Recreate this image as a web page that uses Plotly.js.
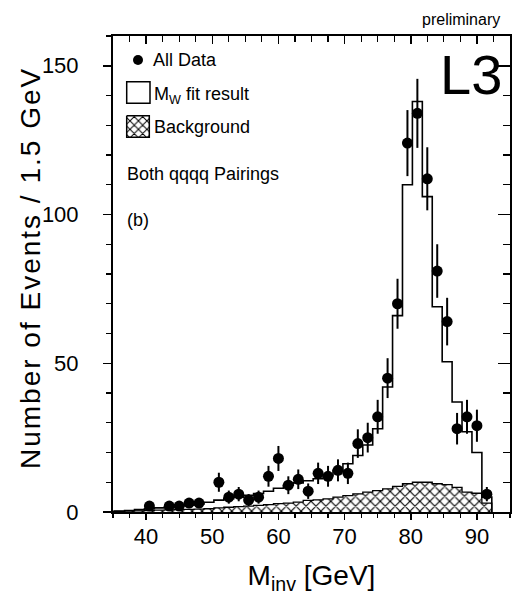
<!DOCTYPE html>
<html><head><meta charset="utf-8">
<script src="https://cdn.plot.ly/plotly-3.0.1.min.js"></script>
<style>body{margin:0;background:#fff}</style>
</head><body><div id="chart" style="width:512px;height:599px"></div>
<script>
// ---- data ----
const dataMass = [40.5, 43.5, 45, 46.5, 48, 51, 52.5, 54, 55.5, 57, 58.5, 60, 61.5, 63, 64.5, 66, 67.5, 69, 70.5, 72, 73.5, 75, 76.5, 78, 79.5, 81, 82.5, 84, 85.5, 87, 88.5, 90, 91.5];
const dataCounts = [2, 2, 2, 3, 3, 10, 5, 6, 4, 5, 12, 18, 9, 11, 7, 13, 12, 14, 13, 23, 25, 32, 45, 70, 124, 134, 112, 81, 64, 28, 32, 29, 6];
const dataErrors = [1.4, 1.4, 1.4, 1.7, 1.7, 3.2, 2.2, 2.4, 2.0, 2.2, 3.5, 4.2, 3.0, 3.3, 2.6, 3.6, 3.5, 3.7, 3.6, 4.8, 5.0, 5.7, 6.7, 8.4, 11.1, 11.6, 10.6, 9.0, 8.0, 5.3, 5.7, 5.4, 2.4];
const binCenters = [34.5, 36, 37.5, 39, 40.5, 42, 43.5, 45, 46.5, 48, 49.5, 51, 52.5, 54, 55.5, 57, 58.5, 60, 61.5, 63, 64.5, 66, 67.5, 69, 70.5, 72, 73.5, 75, 76.5, 78, 79.5, 81, 82.5, 84, 85.5, 87, 88.5, 90, 91.5];
const fitCounts = [0.2, 0.3, 0.5, 0.8, 1.1, 1.4, 1.7, 2.0, 2.3, 2.7, 3.3, 4.0, 4.5, 5.0, 5.6, 6.2, 7.0, 8.0, 9.0, 9.8, 10.5, 11.2, 12.3, 14.0, 16.2, 19.0, 22.5, 28, 42, 66, 110, 138, 106, 69, 50.5, 37, 27, 20, 5];
const bgCounts = [0.1, 0.2, 0.3, 0.4, 0.5, 0.6, 0.7, 0.8, 0.9, 1.0, 1.1, 1.4, 1.6, 1.8, 2.0, 2.2, 2.5, 2.8, 3.0, 3.3, 3.9, 4.1, 4.4, 5.0, 5.5, 6.1, 6.7, 7.2, 7.8, 8.6, 9.5, 10, 10, 9.5, 9.2, 8.3, 6.7, 6.3, 3];
const binWidth = 1.5;
const xTickLabels = ['40', '50', '60', '70', '80', '90'];
const yTickLabels = ['0', '50', '100', '150'];
const yTitle = 'Number of Events / 1.5 GeV';

function stepXY(centers, vals) {
  const x = [], y = [];
  centers.forEach((c, i) => { x.push(c - binWidth / 2); y.push(vals[i]); });
  const last = centers[centers.length - 1] + binWidth / 2;
  x.push(last); y.push(vals[vals.length - 1]);
  x.push(last); y.push(0);
  return {x, y};
}
const bgStep = stepXY(binCenters, bgCounts);
const fitStep = stepXY(binCenters, fitCounts);

const FONT = 'Liberation Sans, Arial, Helvetica, sans-serif';
// plot-area pixel helpers (for decorations only)
const L = 113, R = 510, T = 36, B = 512;
const P = x => (x - L) / (R - L);
const Q = y => (B - y) / (B - T);

const traces = [
  {x: bgStep.x, y: bgStep.y, type: 'scatter', mode: 'lines',
   line: {shape: 'hv', color: 'black', width: 1.3},
   fill: 'tozeroy', fillcolor: 'white',
   fillpattern: {shape: 'x', fgcolor: 'black', bgcolor: 'white', size: 7, solidity: 0.3},
   hoverinfo: 'skip', showlegend: false},
  {x: fitStep.x, y: fitStep.y, type: 'scatter', mode: 'lines',
   line: {shape: 'hv', color: 'black', width: 1.6}, hoverinfo: 'skip', showlegend: false},
  {x: dataMass, y: dataCounts, type: 'scatter', mode: 'markers',
   marker: {size: 11, color: 'black'},
   error_y: {type: 'data', array: dataErrors, visible: true, color: 'black', thickness: 2, width: 0},
   showlegend: false},
  {x: [], y: [], xaxis: 'x2', yaxis: 'y2', type: 'scatter', showlegend: false, hoverinfo: 'skip'},
  // legend glyph for background (pixel overlay axes)
  {x: [126.7, 149.3, 149.3, 126.7, 126.7], y: [115.7, 115.7, 137.3, 137.3, 115.7],
   xaxis: 'x3', yaxis: 'y3', type: 'scatter', mode: 'lines', fill: 'toself', fillcolor: 'white',
   fillpattern: {shape: 'x', fgcolor: 'black', bgcolor: 'white', size: 6, solidity: 0.3},
   line: {color: 'black', width: 1.5}, hoverinfo: 'skip', showlegend: false}
];

const layout = {
  width: 512, height: 599,
  margin: {l: L, r: 512 - R, t: T, b: 599 - B, pad: 0},
  paper_bgcolor: 'white', plot_bgcolor: 'white',
  font: {family: FONT, color: 'black'},
  showlegend: false,
  xaxis: {range: [35, 95], tickmode: 'array', tickvals: xTickLabels.map(Number), ticktext: xTickLabels,
    ticks: 'outside', ticklen: 6, tickwidth: 1.5, tickcolor: 'black',
    minor: {dtick: 2.5, tick0: 0, ticks: 'outside', ticklen: 4, tickwidth: 1.2, tickcolor: 'black'},
    showline: true, linewidth: 2, linecolor: 'black', mirror: true,
    showgrid: false, zeroline: false, tickfont: {size: 22, family: FONT}, ticklabelstandoff: -2,
    title: {text: 'M<sub>inv</sub> [GeV]', font: {size: 28, family: FONT}, standoff: 17}, automargin: false},
  yaxis: {range: [0, 160], tickmode: 'array', tickvals: yTickLabels.map(Number), ticktext: yTickLabels,
    ticks: 'outside', ticklen: 8, tickwidth: 1.5, tickcolor: 'black',
    minor: {dtick: 10, tick0: 0, ticks: 'outside', ticklen: 5, tickwidth: 1.2, tickcolor: 'black'},
    showline: true, linewidth: 2, linecolor: 'black', mirror: true,
    showgrid: false, zeroline: false, tickfont: {size: 22, family: FONT}, ticklabelstandoff: 20,
    automargin: false},
  xaxis2: {overlaying: 'x', side: 'top', anchor: 'y', range: [35, 95], dtick: 10, tick0: 0,
    ticks: 'inside', ticklen: 8, tickwidth: 1.5, tickcolor: 'black',
    minor: {dtick: 2.5, tick0: 0, ticks: 'inside', ticklen: 6, tickwidth: 1.2, tickcolor: 'black'},
    showticklabels: false, showgrid: false, zeroline: false, showline: false},
  yaxis2: {overlaying: 'y', side: 'right', anchor: 'x', range: [0, 160], dtick: 50, tick0: 0,
    ticks: 'inside', ticklen: 12, tickwidth: 1.5, tickcolor: 'black',
    minor: {dtick: 10, tick0: 0, ticks: 'inside', ticklen: 7, tickwidth: 1.2, tickcolor: 'black'},
    showticklabels: false, showgrid: false, zeroline: false, showline: false},
  xaxis3: {overlaying: 'x', anchor: 'y3', range: [L, R], visible: false, fixedrange: true},
  yaxis3: {overlaying: 'y', anchor: 'x3', range: [B, T], visible: false, fixedrange: true},
  shapes: [
    {type: 'circle', xref: 'paper', yref: 'paper', x0: P(133), x1: P(143), y0: Q(55), y1: Q(65),
     fillcolor: 'black', line: {color: 'black', width: 0}},
    {type: 'rect', xref: 'paper', yref: 'paper', x0: P(126.7), x1: P(150), y0: Q(81.7), y1: Q(103.3),
     fillcolor: 'rgba(0,0,0,0)', line: {color: 'black', width: 1.5}}
  ],
  annotations: [
    {text: yTitle, xref: 'paper', yref: 'paper', x: P(30), y: Q(268), xanchor: 'center', yanchor: 'middle', textangle: -90, showarrow: false, font: {size: 28, family: FONT}},
    {text: 'preliminary', xref: 'paper', yref: 'paper', x: P(502), y: Q(20), xanchor: 'right', yanchor: 'middle', showarrow: false, font: {size: 16, family: FONT}},
    {text: 'L3', xref: 'paper', yref: 'paper', x: P(504), y: Q(74), xanchor: 'right', yanchor: 'middle', showarrow: false, font: {size: 56, family: FONT}},
    {text: 'All Data', xref: 'paper', yref: 'paper', x: P(151), y: Q(60), xanchor: 'left', yanchor: 'middle', showarrow: false, font: {size: 18, family: FONT}},
    {text: 'M<sub>W</sub> fit result', xref: 'paper', yref: 'paper', x: P(152), y: Q(95), xanchor: 'left', yanchor: 'middle', showarrow: false, font: {size: 18, family: FONT}},
    {text: 'Background', xref: 'paper', yref: 'paper', x: P(152), y: Q(127), xanchor: 'left', yanchor: 'middle', showarrow: false, font: {size: 18, family: FONT}},
    {text: 'Both qqqq Pairings', xref: 'paper', yref: 'paper', x: P(125), y: Q(174), xanchor: 'left', yanchor: 'middle', showarrow: false, font: {size: 18, family: FONT}},
    {text: '(b)', xref: 'paper', yref: 'paper', x: P(125), y: Q(220), xanchor: 'left', yanchor: 'middle', showarrow: false, font: {size: 18, family: FONT}}
  ]
};

Plotly.newPlot('chart', traces, layout, {staticPlot: true, displayModeBar: false}).then(() => {
  document.querySelectorAll('.annotation-text').forEach(t => {
    if (t.textContent === yTitle) t.style.letterSpacing = '2px';
  });
});
</script></body></html>
